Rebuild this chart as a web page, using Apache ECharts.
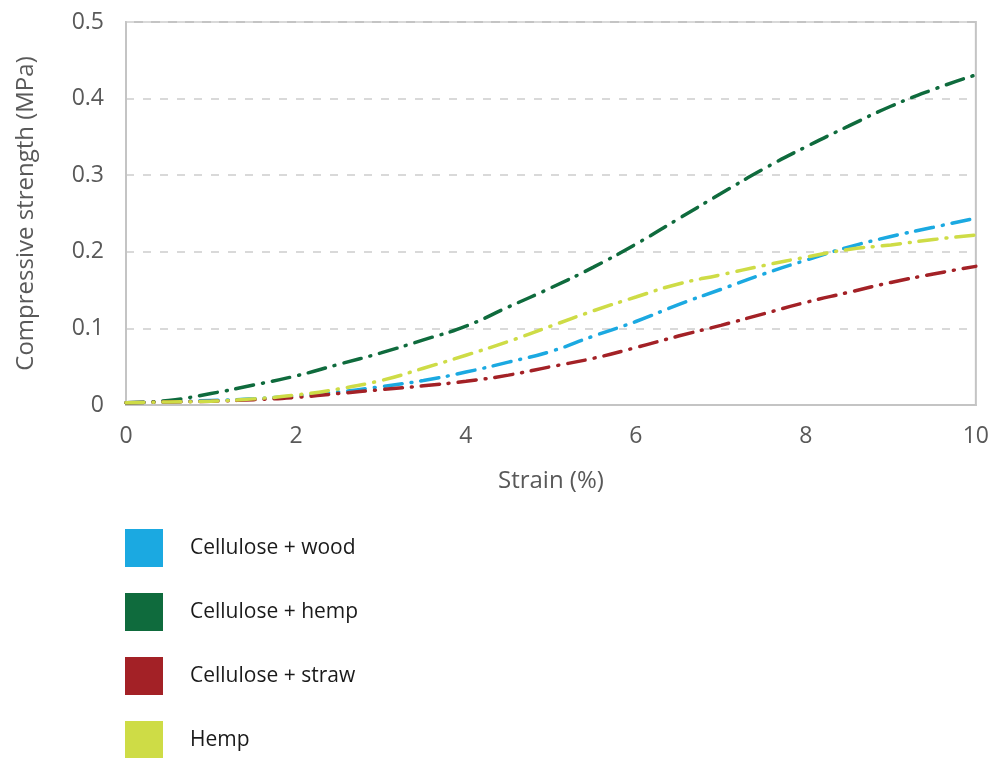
<!DOCTYPE html>
<html>
<head>
<meta charset="utf-8">
<script src="https://cdn.jsdelivr.net/npm/echarts@6/dist/echarts.min.js"></script>
<style>
html,body{margin:0;padding:0;background:#fff;}
#chart{width:992px;height:758px;}
</style>
</head>
<body>
<div id="chart"></div>
<script>
const strain = [0,0.5,1,1.5,2,2.5,3,3.5,4,4.5,5,5.5,6,6.5,7,7.5,8,8.5,9,9.5,10];
const wood  = [0.003,0.004,0.006,0.008,0.012,0.017,0.024,0.032,0.043,0.056,0.070,0.090,0.109,0.131,0.151,0.171,0.189,0.206,0.220,0.232,0.244];
const hempC = [0.003,0.006,0.015,0.026,0.038,0.053,0.068,0.085,0.103,0.128,0.153,0.180,0.210,0.243,0.276,0.308,0.337,0.364,0.390,0.412,0.431];
const straw = [0.003,0.004,0.005,0.007,0.010,0.015,0.020,0.025,0.031,0.039,0.050,0.061,0.075,0.090,0.104,0.119,0.134,0.147,0.160,0.171,0.181];
const hemp  = [0.003,0.004,0.005,0.008,0.013,0.021,0.032,0.048,0.065,0.083,0.103,0.123,0.141,0.158,0.170,0.182,0.193,0.203,0.209,0.216,0.222];
const seriesNames = ['Cellulose + wood','Cellulose + hemp','Cellulose + straw','Hemp'];
const seriesColors = ['#1BA9E1','#0F6B3D','#A32126','#CEDC46'];
const seriesData = [wood, hempC, straw, hemp];

const chart = echarts.init(document.getElementById('chart'));
const font = '"Open Sans", "Noto Sans", sans-serif';
chart.setOption({
  animation: false,
  backgroundColor: '#fff',
  textStyle: {fontFamily: font},
  grid: {left: 126, right: 16, top: 22, bottom: 353, show: true, borderColor: '#c4c4c4', borderWidth: 2},
  xAxis: {
    type: 'value', min: 0, max: 10, interval: 2,
    name: 'Strain (%)', nameLocation: 'middle', nameGap: 64,
    nameTextStyle: {fontSize: 24, color: '#595959', fontFamily: font},
    axisLine: {show: true, lineStyle: {color: '#c4c4c4', width: 2}},
    axisTick: {show: false},
    splitLine: {show: false},
    axisLabel: {fontSize: 23, color: '#595959', margin: 20, fontFamily: font}
  },
  yAxis: {
    type: 'value', min: 0, max: 0.5, interval: 0.1,
    name: 'Compressive strength (MPa)', nameLocation: 'middle', nameGap: 88, nameRotate: 90,
    nameTextStyle: {fontSize: 24, color: '#595959', fontFamily: font},
    axisLine: {show: true, lineStyle: {color: '#c4c4c4', width: 2}},
    axisTick: {show: false},
    splitLine: {show: true, lineStyle: {color: '#d9d9d9', width: 2, type: [8, 9]}},
    axisLabel: {fontSize: 23, color: '#595959', margin: 22, fontFamily: font,
      formatter: v => (Math.round(v*10)/10).toString()}
  },
  legend: {
    orient: 'vertical', left: 125, top: 529, padding: 0, height: 260,
    itemWidth: 38, itemHeight: 38, itemGap: 26,
    icon: 'rect',
    textStyle: {fontSize: 21, color: '#1a1a1a', fontFamily: font, padding: [0,0,0,22]},
    data: seriesNames
  },
  series: seriesNames.map((n, i) => ({
    name: n, type: 'line', smooth: true, showSymbol: false, symbol: 'none',
    data: strain.map((x, j) => [x, seriesData[i][j]]),
    itemStyle: {color: seriesColors[i]},
    lineStyle: {color: seriesColors[i], width: 3.5, type: [18, 9, 1, 9], cap: 'round'},
    z: 2
  }))
});
</script>
</body>
</html>
